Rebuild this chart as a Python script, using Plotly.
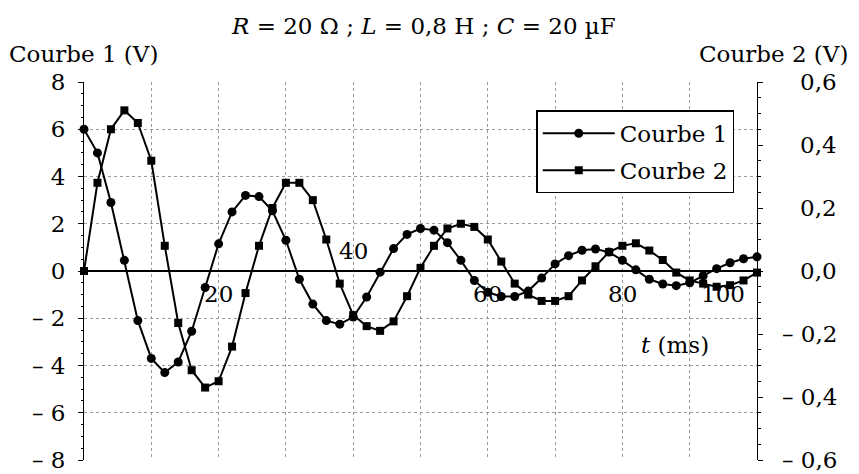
import plotly.graph_objects as go

# ---------------- data ----------------
t_ms = [0, 2, 4, 6, 8, 10, 12, 14, 16, 18, 20, 22, 24, 26, 28, 30, 32, 34, 36, 38,
        40, 42, 44, 46, 48, 50, 52, 54, 56, 58, 60, 62, 64, 66, 68, 70, 72, 74, 76, 78,
        80, 82, 84, 86, 88, 90, 92, 94, 96, 98, 100]

courbe1_V = [6.0, 5.0, 2.9, 0.45, -2.1, -3.7, -4.3, -3.85, -2.55, -0.7,
             1.15, 2.5, 3.2, 3.15, 2.55, 1.3, -0.35, -1.4, -2.1, -2.25,
             -1.95, -1.1, -0.05, 0.95, 1.55, 1.8, 1.73, 1.2, 0.45, -0.4,
             -0.9, -1.08, -1.08, -0.85, -0.3, 0.3, 0.65, 0.88, 0.93, 0.8,
             0.45, 0.05, -0.35, -0.55, -0.62, -0.5, -0.2, 0.1, 0.35, 0.52,
             0.6]

courbe2_V = [0.0, 0.28, 0.45, 0.51, 0.47, 0.35, 0.08, -0.165, -0.315, -0.37,
             -0.35, -0.24, -0.07, 0.08, 0.20, 0.28, 0.28, 0.225, 0.10, -0.04,
             -0.14, -0.175, -0.19, -0.16, -0.08, 0.01, 0.08, 0.135, 0.15, 0.14,
             0.10, 0.03, -0.04, -0.075, -0.095, -0.095, -0.08, -0.03, 0.015, 0.06,
             0.08, 0.088, 0.065, 0.035, -0.005, -0.03, -0.04, -0.05, -0.045, -0.03,
             -0.005]

series_names = ["Courbe 1", "Courbe 2"]

y1_tickvals = [8, 6, 4, 2, 0, -2, -4, -6, -8]
y1_ticktext = ["8", "6", "4", "2", "0", "– 2", "– 4", "– 6", "– 8"]

y2_tickvals = [0.6, 0.4, 0.2, 0.0, -0.2, -0.4, -0.6]
y2_ticktext = ["0,6", "0,4", "0,2", "0,0", "– 0,2", "– 0,4", "– 0,6"]

x_tickvals = [20, 40, 60, 80, 100]
x_ticktext = ["20", "40", "60", "80", "100"]

title_text = "<i>R</i> = 20 Ω ; <i>L</i> = 0,8 H ; <i>C</i> = 20 µF"
y1_title = "Courbe 1 (V)"
y2_title = "Courbe 2 (V)"
x_title = "<i>t</i> (ms)"

# ---------------- figure ----------------
FONT = "DejaVu Serif"
FS = 23
GRID = "#9a9a9a"

fig = go.Figure()
fig.add_trace(go.Scatter(
    x=t_ms, y=courbe1_V, name=series_names[0], mode="lines+markers",
    line=dict(color="black", width=2),
    marker=dict(symbol="circle", size=9, color="black"),
    cliponaxis=False, legendgroup="a"))
fig.add_trace(go.Scatter(
    x=t_ms, y=courbe2_V, name=series_names[1], mode="lines+markers", yaxis="y2",
    line=dict(color="black", width=2),
    marker=dict(symbol="square", size=8, color="black"),
    cliponaxis=False, legendgroup="b"))

fig.update_layout(
    width=859, height=474,
    margin=dict(l=84, r=102, t=82, b=14, autoexpand=False),
    paper_bgcolor="white", plot_bgcolor="white",
    font=dict(family=FONT, size=FS, color="black"),
    showlegend=True,
    legend=dict(x=0.672, y=0.925, xanchor="left", yanchor="top",
                bordercolor="black", borderwidth=1.5, bgcolor="white",
                font=dict(family=FONT, size=FS), itemwidth=72,
                tracegroupgap=4),
    xaxis=dict(range=[0, 100], showline=False, zeroline=False, automargin=False,
               showgrid=True, gridcolor=GRID, griddash="dot", gridwidth=1,
               dtick=10, tick0=0, showticklabels=False, ticks=""),
    yaxis=dict(range=[-8, 8], showline=True, linecolor="black", linewidth=1,
               automargin=False,
               zeroline=True, zerolinecolor="black", zerolinewidth=2,
               showgrid=True, gridcolor=GRID, griddash="dot", gridwidth=1,
               tickvals=y1_tickvals, ticktext=y1_ticktext,
               ticks="outside", ticklen=5, tickcolor="black",
               ticklabelstandoff=8,
               minor=dict(dtick=0.5, ticks="outside", ticklen=2, tickcolor="black",
                          showgrid=False),
               tickfont=dict(family=FONT, size=FS)),
    yaxis2=dict(range=[-0.6, 0.6], overlaying="y", side="right",
                automargin=False,
                showline=True, linecolor="black", linewidth=1,
                zeroline=False, showgrid=False, showticklabels=False,
                tickvals=y2_tickvals, ticks="outside", ticklen=5, tickcolor="black",
                minor=dict(dtick=0.05, ticks="outside", ticklen=3, tickcolor="black",
                           showgrid=False)),
)

ann = []
# x tick labels placed along the zero line
for v, txt in zip(x_tickvals, x_ticktext):
    above = (v == 40)
    ann.append(dict(x=v, y=0, xref="x", yref="y", text=txt, showarrow=False,
                    xanchor="right" if v == 100 else "center",
                    xshift=-10 if v == 100 else 0,
                    yanchor="bottom" if above else "top",
                    yshift=5 if above else -8,
                    font=dict(family=FONT, size=FS)))
# right axis tick labels (right aligned)
for v, txt in zip(y2_tickvals, y2_ticktext):
    ann.append(dict(x=1.122, y=v, xref="paper", yref="y2", text=txt,
                    showarrow=False, xanchor="right", yanchor="middle",
                    font=dict(family=FONT, size=FS)))
ann += [
    dict(x=0.505, y=1.148, xref="paper", yref="paper", text=title_text,
         showarrow=False, xanchor="center", yanchor="middle",
         font=dict(family=FONT, size=FS)),
    dict(x=-0.115, y=1.074, xref="paper", yref="paper", text=y1_title,
         showarrow=False, xanchor="left", yanchor="middle",
         font=dict(family=FONT, size=FS)),
    dict(x=1.138, y=1.074, xref="paper", yref="paper", text=y2_title,
         showarrow=False, xanchor="right", yanchor="middle",
         font=dict(family=FONT, size=FS)),
    dict(x=0.878, y=0.304, xref="paper", yref="paper", text=x_title,
         showarrow=False, xanchor="center", yanchor="middle",
         font=dict(family=FONT, size=FS)),
]
fig.update_layout(annotations=ann)

fig.write_html("out.html", config={"displayModeBar": False},
               post_script="document.body.style.margin='0';document.body.style.overflow='hidden';")
